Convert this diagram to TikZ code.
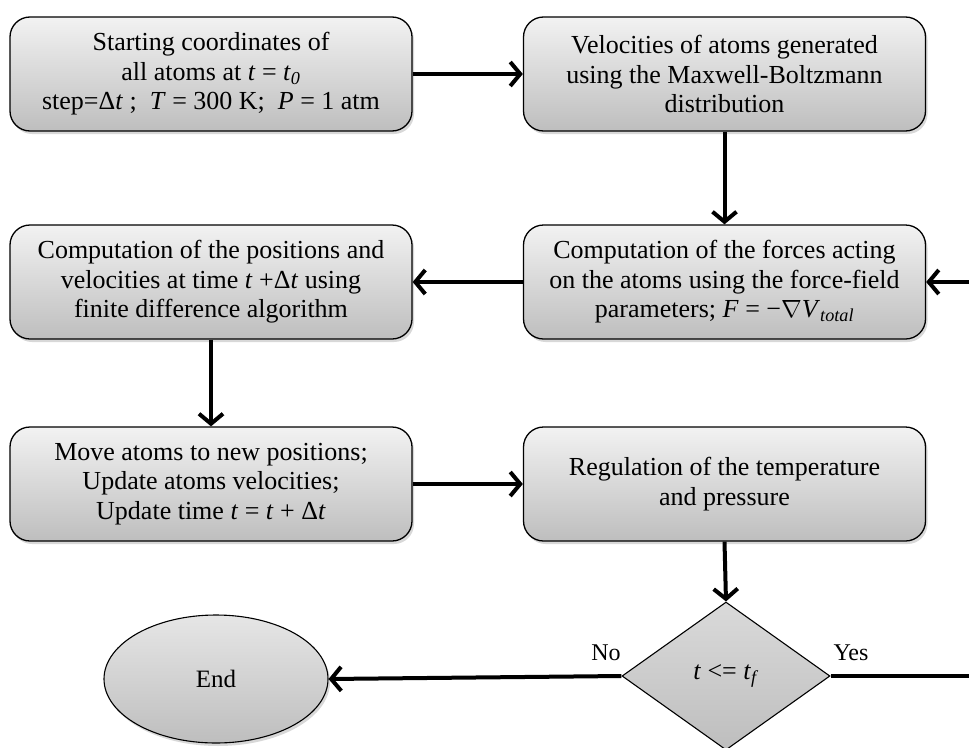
\documentclass[tikz,border=0pt]{standalone}
\usepackage{fontspec}
\setmainfont{Liberation Serif}
\usetikzlibrary{arrows.meta,shapes.geometric,shadows}
\definecolor{boxtop}{HTML}{F2F2F2}
\definecolor{boxbot}{HTML}{BEBEBE}
\begin{document}
\begin{tikzpicture}[x=1pt,y=-1pt,
  procbox/.style={rounded corners=20pt, draw=black, line width=1.3pt,
    top color=boxtop, bottom color=boxbot,
    drop shadow={shadow xshift=2pt, shadow yshift=-3pt, opacity=0.3},
    minimum width=402pt, minimum height=114pt, align=center,
    font=\fontsize{26}{29.5}\selectfont, inner sep=0pt},
  decbox/.style={diamond, draw=black, line width=1.1pt,
    top color=boxtop!90!black, bottom color=boxbot,
    minimum width=208pt, minimum height=148pt, inner sep=0pt,
    font=\fontsize{26}{29}\selectfont},
  endbox/.style={ellipse, draw=black, line width=1.1pt,
    top color=boxtop!95!black, bottom color=boxbot,
    drop shadow={shadow xshift=2pt, shadow yshift=-3pt, opacity=0.3},
    minimum width=224pt, minimum height=128pt, inner sep=0pt,
    font=\fontsize{25}{29}\selectfont},
  flow/.style={line width=4pt, -{Straight Barb[length=10pt,width=24pt,line width=4pt]}},
  lbl/.style={font=\fontsize{24}{28}\selectfont, inner sep=0pt}
]
\clip (0,0) rectangle (969,747);
\fill[white] (0,0) rectangle (969,747);

\node[procbox] (start) at (211,74) {Starting coordinates of\\ all atoms at \textit{t} = \textit{t}\textsubscript{\textit{0}}\\ step=Δ\textit{t} ;\ \ \textit{T} = 300 K;\ \ \textit{P} = 1 atm};
\node[procbox] (vel) at (724.5,74) {Velocities of atoms generated\\ using the Maxwell-Boltzmann\\ distribution};
\node[procbox] (pos) at (211,282) {Computation of the positions and\\ velocities at time \textit{t} +Δ\textit{t} using\\ finite difference algorithm};
\node[procbox] (force) at (724.5,282) {Computation of the forces acting\\ on the atoms using the force-field\\ parameters; \textit{F} = −$\nabla$\textit{V}\textsubscript{\textit{total}}};
\node[procbox] (move) at (211,484) {Move atoms to new positions;\\ Update atoms velocities;\\ Update time \textit{t} = \textit{t} + Δ\textit{t}};
\node[procbox] (reg) at (724.5,484) {Regulation of the temperature\\ and pressure};
\node[decbox] (dec) at (726,676) {\textit{t} <= \textit{t}\textsubscript{\textit{f}}};
\node[endbox] (end) at (216,679) {End};
\coordinate (loop) at (1000,676);

\draw[flow] (start.east) -- (vel.west);
\draw[flow] (vel.south) -- (force.north);
\draw[flow] (force.west) -- (pos.east);
\draw[flow] (pos.south) -- (move.north);
\draw[flow] (move.east) -- (reg.west);
\draw[flow] (reg.south) -- (dec.north);
\draw[flow] (dec.west) -- (end.east);
\draw[flow] (dec.east) -- (loop) |- (force.east);

\node[lbl] (no) at (606,653) {No};
\node[lbl] (yes) at (851,653) {Yes};
\end{tikzpicture}
\end{document}
